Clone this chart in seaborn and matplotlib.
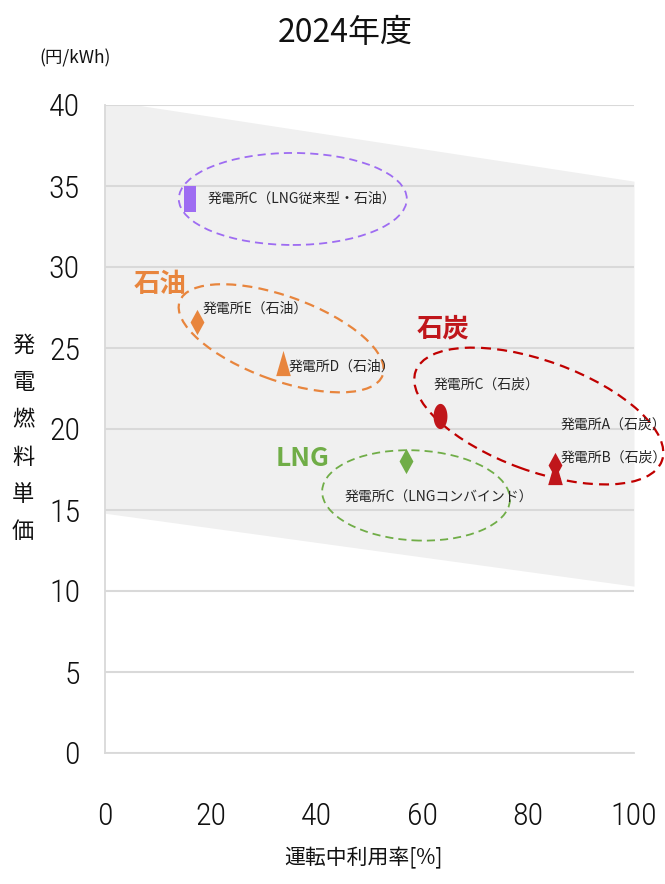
import numpy as np
import pandas as pd
import matplotlib
matplotlib.use("Agg")
import matplotlib.pyplot as plt
import matplotlib.transforms as mtransforms
from matplotlib.patches import Ellipse
import seaborn as sns

# ---------------- data ----------------
title = "2024年度"
x_label = "運転中利用率[%]"
y_label = "発電燃料単価"
unit_label = "(円/kWh)"

plants = ["発電所C（LNG従来型・石油）", "発電所E（石油）", "発電所D（石油）",
          "発電所C（石炭）", "発電所A（石炭）", "発電所B（石炭）",
          "発電所C（LNGコンバインド）"]
utilization = [16.1, 17.4, 33.6, 63.3, 85.1, 85.1, 56.9]
fuel_cost = [34.2, 26.6, 24.1, 20.8, 17.8, 17.35, 18.0]
fuel_type = ["LNG従来型・石油", "石油", "石油", "石炭", "石炭", "石炭", "LNG"]
marker_kind = ["rect", "diamond", "triangle", "circle", "diamond", "triangle", "diamond"]

group_names = ["石油", "石炭", "LNG"]
group_label_x = [10.4, 63.9, 37.4]
group_label_y = [28.9, 26.2, 18.2]

band_x = [0, 100]
band_low = [14.8, 10.3]
band_high = [40.3, 35.3]

x_ticks = [0, 20, 40, 60, 80, 100]
y_ticks = [0, 5, 10, 15, 20, 25, 30, 35, 40]

df = pd.DataFrame({"plant": plants, "util": utilization, "cost": fuel_cost,
                   "fuel": fuel_type, "marker": marker_kind})

# ---------------- styles ----------------
colors = {"LNG従来型・石油": "#9E6CF2", "石油": "#E8853D", "石炭": "#C0161B", "LNG": "#70AD47"}
group_colors = {"石油": "#E8853D", "石炭": "#C0161B", "LNG": "#70AD47"}
ellipse_colors = {"LNG従来型・石油": "#9E6CF2", "石油": "#E8853D", "石炭": "#C00000", "LNG": "#70AD47"}

t = np.linspace(0, 2 * np.pi, 60)
marker_verts = {
    "rect": [(-0.48, -1), (0.48, -1), (0.48, 1), (-0.48, 1)],
    "diamond": [(0, 1), (0.55, 0), (0, -1), (-0.55, 0)],
    "triangle": [(0, 1), (0.58, -1), (-0.58, -1)],
    "circle": list(zip(0.55 * np.cos(t), np.sin(t))),
}

# label offsets in pixels (dx, dy upward)
label_offsets = [(17, 0), (6, 13), (6, -4), (-6, 31), (5, 40), (5, 14), (-61, -36)]

# ellipse specs: fuel -> (center x, center y [data], half-width px, half-height px, angle, lw)
ellipses = {
    "LNG従来型・石油": (35.5, 34.2, 114, 46, 0, 1.3),
    "石油": (33.3, 25.6, 108, 42, -20, 1.6),
    "石炭": (82.0, 20.8, 131, 55, -20, 1.6),
    "LNG": (58.8, 15.9, 94, 45, -3, 1.3),
}

sns.set_theme(style="white")
plt.rcParams["font.family"] = ["Noto Sans CJK JP", "DejaVu Sans"]

fig = plt.figure(figsize=(6.65, 8.84), dpi=100)
ax = fig.add_axes([105 / 665, 1 - 753 / 884, 529 / 665, 648 / 884])

ax.fill_between(band_x, band_low, band_high, color="#F0F0F0", lw=0, zorder=0.2)

for i, row in df.iterrows():
    sns.scatterplot(x=[row.util], y=[row.cost], ax=ax, marker=marker_verts[row.marker],
                    color=colors[row.fuel], s=330, linewidth=0, zorder=4)
    dx, dy = label_offsets[i]
    ax.annotate(row.plant, (row.util, row.cost), xytext=(dx, dy),
                textcoords="offset pixels", ha="left", va="center",
                fontsize=10, color="#262626", zorder=5, annotation_clip=False)

for fuel, (cx, cy, a, b, ang, lw) in ellipses.items():
    trans = fig.dpi_scale_trans + mtransforms.ScaledTranslation(cx, cy, ax.transData)
    e = Ellipse((0, 0), 2 * a / 100, 2 * b / 100, angle=ang, transform=trans,
                fill=False, edgecolor=ellipse_colors[fuel], lw=lw,
                linestyle=(0, (4.5, 2.8)), zorder=3, clip_on=False)
    ax.add_patch(e)

for name, gx, gy in zip(group_names, group_label_x, group_label_y):
    ax.text(gx, gy, name, ha="center", va="center", fontsize=19,
            fontweight="bold", color=group_colors[name], zorder=5)

ax.set_xlim(0, 100)
ax.set_ylim(0, 40)
ax.set_xticks(x_ticks)
ax.set_yticks(y_ticks)
ax.set_xticklabels([str(v) for v in x_ticks])
ax.set_yticklabels([str(v) for v in y_ticks])
tick_font = ["Roboto Condensed", "Liberation Sans Narrow", "Open Sans Condensed",
             "Noto Sans CJK JP", "DejaVu Sans"]
for lab in ax.get_xticklabels() + ax.get_yticklabels():
    lab.set_family(tick_font)
    lab.set_fontsize(23)
    lab.set_fontweight("light")
    lab.set_color("#111111")
ax.tick_params(axis="y", length=0, pad=18)
ax.tick_params(axis="x", length=0, pad=35)
ax.set_xlabel("")
ax.set_ylabel("")

ax.yaxis.grid(True, color="#D9D9D9", lw=1.5)
ax.xaxis.grid(False)
ax.set_axisbelow(True)
for s in ["top", "right"]:
    ax.spines[s].set_visible(False)
for s in ["left", "bottom"]:
    ax.spines[s].set_color("#D9D9D9")
    ax.spines[s].set_linewidth(1.3)
ax.set_facecolor("white")

fig.text(345 / 665, 1 - 33 / 884, title, ha="center", va="center", fontsize=23, color="#111111")
fig.text(75 / 665, 1 - 58 / 884, unit_label, ha="center", va="center", fontsize=12.5, color="#111111")
fig.text(363 / 665, 1 - 858 / 884, x_label, ha="center", va="center", fontsize=15, color="#111111")
for k, ch in enumerate(y_label):
    fig.text(23 / 665, 1 - (345 + 37.4 * k) / 884, ch, ha="center", va="center",
             fontsize=16, color="#111111")

fig.savefig("out.png", dpi=100)
